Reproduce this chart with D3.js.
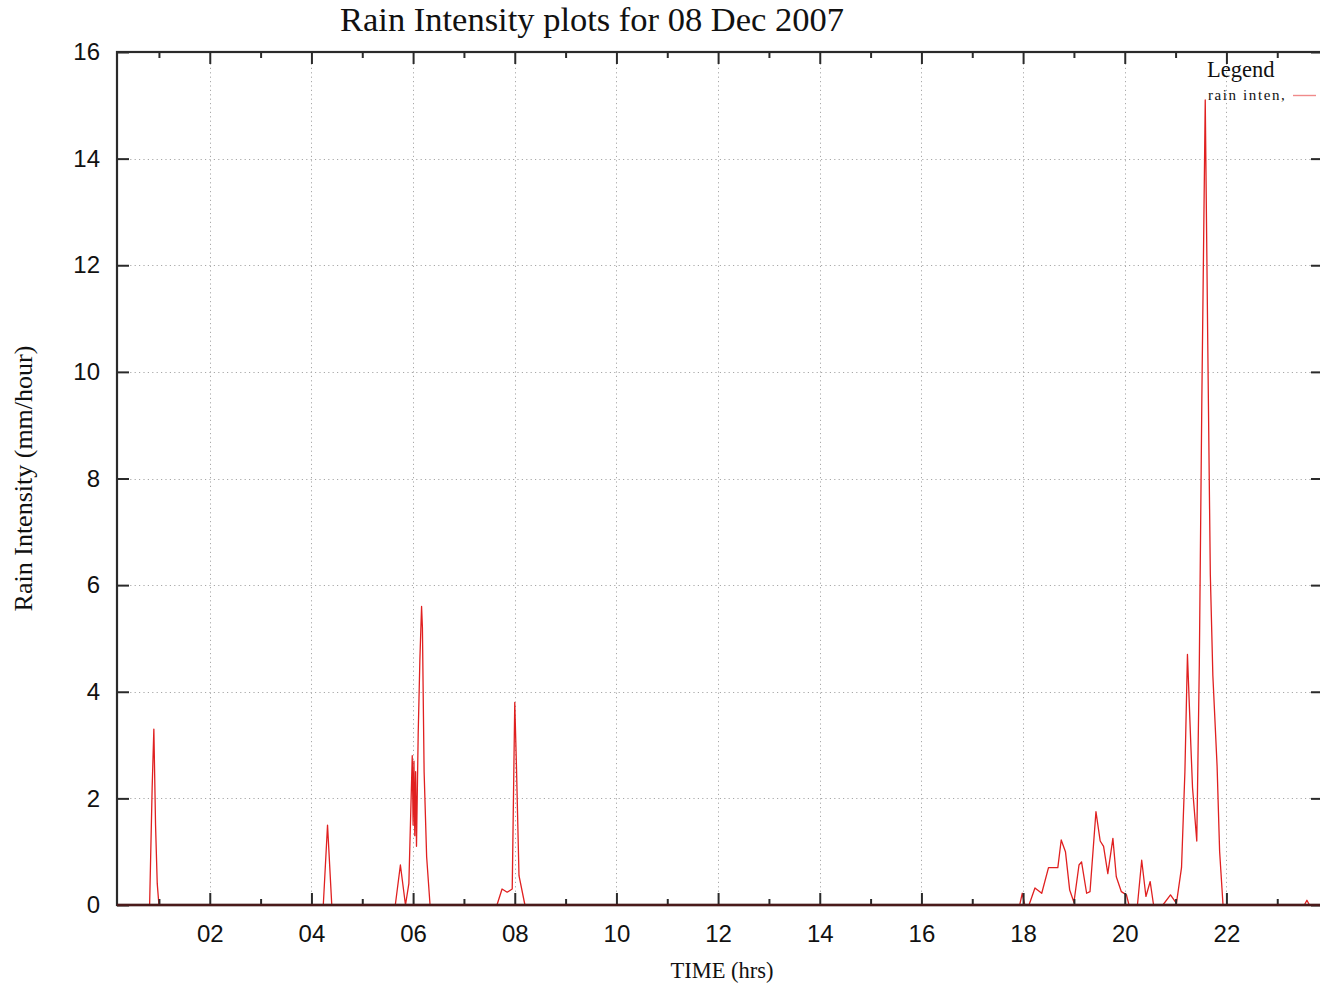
<!DOCTYPE html>
<html>
<head>
<meta charset="utf-8">
<script src="https://cdn.jsdelivr.net/npm/d3@7"></script>
<style>
  html, body { margin: 0; padding: 0; background: #fff; }
  svg { display: block; }
</style>
</head>
<body>
<svg id="chart" width="1320" height="984"></svg>
<script>
// ---- Data (time of day HH:MM, rain intensity mm/hour) ----
const times = [
  "00:11","00:49","00:52","00:54","00:56","00:58","01:00",
  "04:14","04:19","04:24",
  "05:39","05:45","05:51","05:55","05:59","06:00","06:01","06:02","06:03","06:04","06:06","06:08","06:10","06:11","06:13","06:16","06:20",
  "07:39","07:45","07:51","07:57","08:00","08:02","08:05","08:12",
  "17:56","17:59","18:02","18:07","18:14","18:22","18:30","18:41","18:45","18:50","18:55","19:00",
  "19:06","19:09","19:15","19:19","19:26","19:31","19:35","19:40","19:46","19:50","19:56","20:02","20:05",
  "20:15","20:20","20:25","20:30","20:34","20:45","20:54","21:01",
  "21:07","21:11","21:14","21:18","21:20","21:25","21:28","21:31","21:35","21:38","21:41","21:44","21:49","21:52","21:56",
  "23:32","23:35","23:38","23:54"
];
const values = [
  0, 0, 2.2, 3.3, 1.5, 0.4, 0,
  0, 1.5, 0,
  0, 0.75, 0, 0.4, 2.8, 1.5, 2.7, 1.3, 2.5, 1.1, 3.2, 4.6, 5.6, 5.2, 2.5, 0.9, 0,
  0, 0.3, 0.24, 0.3, 3.8, 2.6, 0.55, 0,
  0, 0.22, 0, 0, 0.32, 0.22, 0.7, 0.7, 1.22, 1.0, 0.28, 0.05,
  0.75, 0.81, 0.22, 0.25, 1.75, 1.2, 1.1, 0.59, 1.25, 0.53, 0.25, 0.19, 0,
  0, 0.84, 0.16, 0.44, 0, 0, 0.19, 0.03,
  0.7, 2.5, 4.7, 3.0, 2.2, 1.2, 4.5, 9.5, 15.1, 10.5, 6.2, 4.3, 2.6, 1.0, 0,
  0, 0.09, 0, 0
];
const xTickHours = [2, 4, 6, 8, 10, 12, 14, 16, 18, 20, 22];
const xTickLabels = ["02","04","06","08","10","12","14","16","18","20","22"];
const xMinorHours = [1, 3, 5, 7, 9, 11, 13, 15, 17, 19, 21, 23];
const yTicks = [0, 2, 4, 6, 8, 10, 12, 14, 16];

const titleText = "Rain Intensity plots for 08 Dec 2007";
const xLabel = "TIME (hrs)";
const yLabel = "Rain Intensity (mm/hour)";
const legendTitle = "Legend";
const seriesName = "rain inten,";

(function () {
const pL = 117, pR = 1323, pT = 52, pB = 905;
const toHours = s => { const [h, m] = s.split(":").map(Number); return h + m / 60; };
const data = times.map((t, i) => ({ h: toHours(t), v: values[i] }));

const x = d3.scaleLinear().domain([0.175, 23.9]).range([pL, pR]);
const y = d3.scaleLinear().domain([0, 16]).range([pB, pT]);

const svg = d3.select("#chart");
const serif = "'Liberation Serif', 'DejaVu Serif', serif";
const sans = "'Liberation Sans', Arial, sans-serif";

const grid = svg.append("g").attr("stroke", "#a8a8a8").attr("stroke-width", 1)
  .attr("stroke-dasharray", "1.2,3.2");
grid.selectAll("line.gx").data(xTickHours).enter().append("line")
  .attr("x1", d => Math.round(x(d)) + 0.5).attr("x2", d => Math.round(x(d)) + 0.5)
  .attr("y1", pB).attr("y2", pT);
grid.selectAll("line.gy").data(yTicks.filter(d => d > 0 && d < 16)).enter().append("line")
  .attr("x1", pL).attr("x2", pR)
  .attr("y1", d => Math.round(y(d)) + 0.5).attr("y2", d => Math.round(y(d)) + 0.5);

const line = d3.line().x(d => x(d.h)).y(d => y(d.v));
svg.append("path").datum(data)
  .attr("fill", "none").attr("stroke", "#e02020").attr("stroke-width", 1.3)
  .attr("stroke-linejoin", "round")
  .attr("d", line);

const axisColor = "#2a2a2a";
function styleAxis(g) {
  g.select(".domain").remove();
  g.selectAll(".tick line").attr("stroke", axisColor).attr("stroke-width", 2);
  g.selectAll(".tick text").attr("fill", "#111").style("font-family", sans).style("font-size", "24px");
}
svg.append("g").attr("transform", `translate(0,${pB})`)
  .call(d3.axisBottom(x).tickValues(xTickHours).tickSize(-12).tickPadding(20)
    .tickFormat((d, i) => xTickLabels[i]))
  .call(styleAxis);
svg.append("g").attr("transform", `translate(0,${pB})`)
  .call(d3.axisBottom(x).tickValues(xMinorHours).tickSize(-6).tickFormat(""))
  .call(styleAxis);
svg.append("g").attr("transform", `translate(0,${pT})`)
  .call(d3.axisTop(x).tickValues(xTickHours).tickSize(-12).tickFormat(""))
  .call(styleAxis);
svg.append("g").attr("transform", `translate(0,${pT})`)
  .call(d3.axisTop(x).tickValues(xMinorHours).tickSize(-6).tickFormat(""))
  .call(styleAxis);
svg.append("g").attr("transform", `translate(${pL},0)`)
  .call(d3.axisLeft(y).tickValues(yTicks).tickSize(-12).tickPadding(17).tickFormat(d3.format("d")))
  .call(styleAxis);
svg.append("g").attr("transform", `translate(${pR},0)`)
  .call(d3.axisRight(y).tickValues(yTicks).tickSize(-12).tickFormat(""))
  .call(styleAxis);

svg.append("rect").attr("x", pL).attr("y", pT)
  .attr("width", pR - pL).attr("height", pB - pT)
  .attr("fill", "none").attr("stroke", axisColor).attr("stroke-width", 2.2);
svg.append("line").attr("x1", pL).attr("x2", pR).attr("y1", pB).attr("y2", pB)
  .attr("stroke", "#4a1a1a").attr("stroke-width", 2.6);

svg.append("text").attr("x", 592).attr("y", 31).attr("text-anchor", "middle")
  .style("font-family", serif).style("font-size", "34.5px").attr("fill", "#111").text(titleText);
svg.append("text").attr("x", 722).attr("y", 978).attr("text-anchor", "middle")
  .style("font-family", serif).style("font-size", "22.5px").attr("fill", "#111").text(xLabel);
svg.append("text").attr("transform", `translate(32,${(pT + pB) / 2}) rotate(-90)`)
  .attr("text-anchor", "middle")
  .style("font-family", serif).style("font-size", "26px").attr("fill", "#111").text(yLabel);

svg.append("text").attr("x", 1207).attr("y", 77)
  .style("font-family", serif).style("font-size", "22.5px").attr("fill", "#111").text(legendTitle);
svg.append("text").attr("x", 1208).attr("y", 100)
  .style("font-family", serif).style("font-size", "15px").style("letter-spacing", "1.6px")
  .attr("fill", "#111").text(seriesName);
svg.append("line").attr("x1", 1293).attr("x2", 1316).attr("y1", 95.5).attr("y2", 95.5)
  .attr("stroke", "#f08a8a").attr("stroke-width", 1.4);
})();
</script>
</body>
</html>
